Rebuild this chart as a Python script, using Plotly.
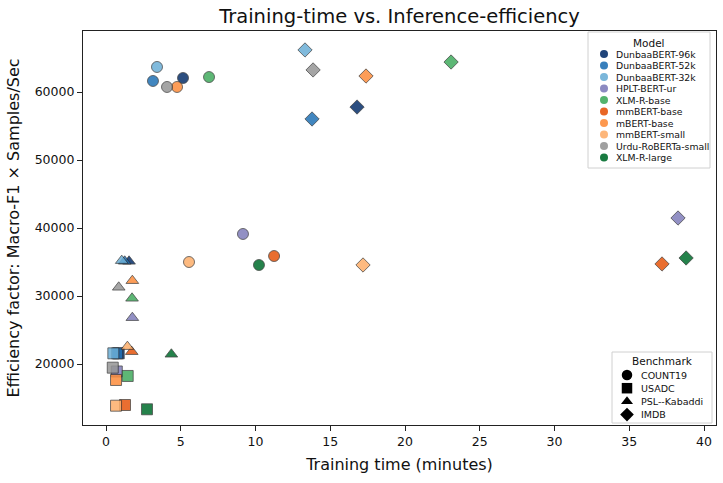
import plotly.graph_objects as go

MODELS = ["DunbaaBERT-96k", "DunbaaBERT-52k", "DunbaaBERT-32k", "HPLT-BERT-ur",
          "XLM-R-base", "mmBERT-base", "mBERT-base", "mmBERT-small",
          "Urdu-RoBERTa-small", "XLM-R-large"]
COLORS = ["#08306b", "#2171b5", "#6baed6", "#807dba", "#41ab5d",
          "#e6550d", "#fd8d3c", "#fdae6b", "#969696", "#006d2c"]

BENCHMARKS = ["COUNT19", "USADC", "PSL--Kabaddi", "IMDB"]
SYMBOLS = ["circle", "square", "triangle-up", "diamond"]

# training time (minutes), per model in MODELS order
COUNT19_TIME = [5.15, 3.14, 3.41, 9.16, 6.89, 11.24, 4.75, 5.55, 4.08, 10.23]
COUNT19_EFF = [62060, 61620, 63680, 39120, 62200, 35880, 60740, 35000, 60740, 34560]

USADC_TIME = [0.85, 0.75, 0.49, 0.72, 1.45, 1.27, 0.67, 0.67, 0.45, 2.74]
USADC_EFF = [21570, 21570, 21570, 18900, 18240, 13970, 17650, 13870, 19460, 13340]

PSL_TIME = [1.54, 1.25, 1.05, 1.76, 1.74, 1.72, 1.76, 1.43, 0.85, 4.37]
PSL_EFF = [35100, 35100, 35200, 26810, 29660, 21810, 32250, 22550, 31280, 21430]

IMDB_TIME = [16.79, 13.78, 13.31, 38.26, 23.08, 37.19, 17.39, 17.19, 13.85, 38.80]
IMDB_EFF = [57790, 56030, 66180, 41470, 64410, 34710, 62350, 34560, 63240, 35590]

TIMES = [COUNT19_TIME, USADC_TIME, PSL_TIME, IMDB_TIME]
EFFS = [COUNT19_EFF, USADC_EFF, PSL_EFF, IMDB_EFF]

X_TICKS = [0, 5, 10, 15, 20, 25, 30, 35, 40]
Y_TICKS = [20000, 30000, 40000, 50000, 60000]

FONT = "DejaVu Sans"
W, H = 723, 483
L, R, T, B = 83, 716, 31, 425  # plot area in pixels

fig = go.Figure()

for mi, model in enumerate(MODELS):
    xs, ys, syms = [], [], []
    for bi in range(len(BENCHMARKS)):
        xs.append(TIMES[bi][mi])
        ys.append(EFFS[bi][mi])
        syms.append(SYMBOLS[bi])
    fig.add_trace(go.Scatter(
        x=xs, y=ys, mode="markers", name=model, showlegend=False,
        marker=dict(symbol=syms, size=11, color=COLORS[mi], opacity=0.85,
                    line=dict(color="rgba(40,40,40,0.95)", width=0.8)),
        hoverinfo="skip"))

# ---- custom legends drawn on a pixel-space overlay axis ----
# Model legend
m_box = (588, 32, 710, 168)
m_x0, m_y0, m_dy = 604, 54, 11.5
fig.add_trace(go.Scatter(
    x=[m_x0] * len(MODELS), y=[m_y0 + i * m_dy for i in range(len(MODELS))],
    xaxis="x2", yaxis="y2", mode="markers", showlegend=False, hoverinfo="skip",
    marker=dict(symbol="circle", size=8, color=COLORS, opacity=0.9,
                line=dict(width=0))))
# Benchmark legend
b_box = (612, 352, 712, 423)
b_x0, b_y0, b_dy = 627, 375, 13.2
fig.add_trace(go.Scatter(
    x=[b_x0] * len(BENCHMARKS), y=[b_y0 + i * b_dy for i in range(len(BENCHMARKS))],
    xaxis="x2", yaxis="y2", mode="markers", showlegend=False, hoverinfo="skip",
    marker=dict(symbol=SYMBOLS, size=10.5, color="black", line=dict(width=0))))

shapes = []
for (x0, y0, x1, y1) in (m_box, b_box):
    shapes.append(dict(type="rect", xref="x2", yref="y2", x0=x0, y0=y0, x1=x1, y1=y1,
                       fillcolor="rgba(255,255,255,0.85)",
                       line=dict(color="#d0d0d0", width=1), layer="below"))

annotations = []
annotations.append(dict(x=(m_box[0] + m_box[2]) / 2, y=43, xref="x2", yref="y2",
                        text="Model", showarrow=False, xanchor="center", yanchor="middle",
                        font=dict(family=FONT, size=10.5, color="#111")))
for i, model in enumerate(MODELS):
    annotations.append(dict(x=m_x0 + 10, y=m_y0 + i * m_dy, xref="x2", yref="y2",
                            text=model, showarrow=False, xanchor="left", yanchor="middle",
                            font=dict(family=FONT, size=9.3, color="#111")))
annotations.append(dict(x=(b_box[0] + b_box[2]) / 2, y=361, xref="x2", yref="y2",
                        text="Benchmark", showarrow=False, xanchor="center", yanchor="middle",
                        font=dict(family=FONT, size=10.5, color="#111")))
for i, bm in enumerate(BENCHMARKS):
    annotations.append(dict(x=b_x0 + 12, y=b_y0 + i * b_dy, xref="x2", yref="y2",
                            text=bm, showarrow=False, xanchor="left", yanchor="middle",
                            font=dict(family=FONT, size=9.5, color="#111")))

fig.update_layout(
    width=W, height=H,
    margin=dict(l=L, r=W - R, t=T, b=H - B, pad=0),
    paper_bgcolor="white", plot_bgcolor="white",
    font=dict(family=FONT, color="#111"),
    title=dict(text="Training-time vs. Inference-efficiency", x=(L + R) / 2 / W,
               xanchor="center", y=1 - 16 / H, yanchor="middle",
               font=dict(family=FONT, size=19.5, color="#111")),
    xaxis=dict(range=[-1.54, 40.8], tickvals=X_TICKS, ticks="outside", ticklen=5,
               tickwidth=1, tickcolor="#222", showline=True, mirror=True,
               linecolor="#222", linewidth=1.2, showgrid=False, zeroline=False,
               tickfont=dict(family=FONT, size=12.5, color="#111"),
               title=dict(text="Training time (minutes)", standoff=10,
                          font=dict(family=FONT, size=16, color="#111"))),
    yaxis=dict(range=[11030, 68970], tickvals=Y_TICKS, tickformat="d", ticks="outside",
               ticklen=5, tickwidth=1, tickcolor="#222", showline=True, mirror=True,
               linecolor="#222", linewidth=1.2, showgrid=False, zeroline=False,
               tickfont=dict(family=FONT, size=12.5, color="#111"),
               title=dict(text="Efficiency factor: Macro-F1 × Samples/Sec", standoff=11,
                          font=dict(family=FONT, size=16, color="#111"))),
    xaxis2=dict(range=[L, R], overlaying="x", visible=False, fixedrange=True),
    yaxis2=dict(range=[B, T], overlaying="y", visible=False, fixedrange=True),
    shapes=shapes, annotations=annotations,
)

fig.write_html("out.html")
